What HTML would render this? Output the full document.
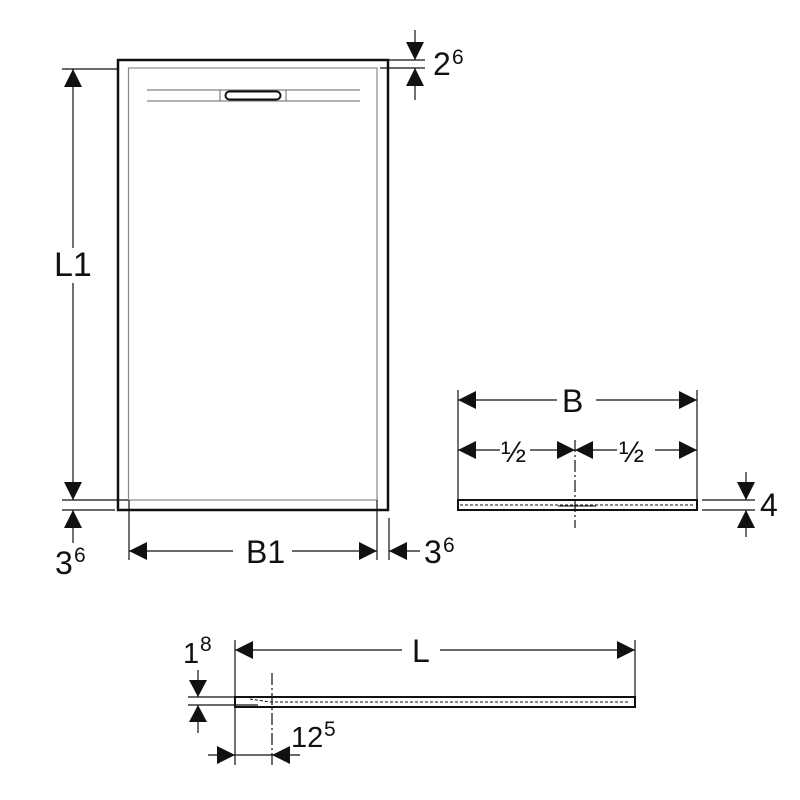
<!DOCTYPE html>
<html><head><meta charset="utf-8"><style>
html,body{margin:0;padding:0;background:#fff;}
svg{display:block;}
text{font-family:"Liberation Sans",Arial,sans-serif;fill:#111;}
</style></head><body>
<svg width="800" height="800" viewBox="0 0 800 800" xmlns="http://www.w3.org/2000/svg">
<g fill="none" stroke="#111">
  <rect x="118" y="60" width="270" height="450" stroke-width="2.5"/>
  <rect x="128.5" y="68" width="248.5" height="432" stroke="#888" stroke-width="1.2"/>
  <line x1="147" y1="90" x2="360" y2="90" stroke="#666" stroke-width="1"/>
  <line x1="147" y1="101" x2="360" y2="101" stroke="#666" stroke-width="1"/>
  <rect x="220" y="90" width="66" height="11" stroke="#666" stroke-width="1"/>
  <rect x="225.5" y="91.5" width="55" height="8" rx="4" stroke-width="2"/>
  <line x1="62" y1="69" x2="118" y2="69" stroke-width="1.2"/>
  <line x1="62" y1="500" x2="128" y2="500" stroke-width="1.2"/>
  <line x1="62" y1="510" x2="115" y2="510" stroke-width="1.2"/>
  <line x1="73" y1="69" x2="73" y2="248" stroke-width="1.2"/>
  <line x1="73" y1="283" x2="73" y2="500" stroke-width="1.2"/>
  <line x1="73" y1="510" x2="73" y2="543" stroke-width="1.2"/>
  <line x1="129" y1="500" x2="129" y2="560" stroke-width="1.2"/>
  <line x1="377" y1="500" x2="377" y2="560" stroke-width="1.2"/>
  <line x1="389" y1="518" x2="389" y2="560" stroke-width="1.2"/>
  <line x1="129" y1="551" x2="233" y2="551" stroke-width="1.2"/>
  <line x1="292" y1="551" x2="377" y2="551" stroke-width="1.2"/>
  <line x1="389" y1="551" x2="420" y2="551" stroke-width="1.2"/>
  <line x1="388" y1="60" x2="425" y2="60" stroke-width="1.2"/>
  <line x1="380" y1="68" x2="425" y2="68" stroke-width="1.2"/>
  <line x1="415" y1="30" x2="415" y2="60" stroke-width="1.2"/>
  <line x1="415" y1="68" x2="415" y2="100" stroke-width="1.2"/>
  <rect x="458" y="500" width="239" height="10" stroke-width="2"/>
  <line x1="460" y1="505" x2="695" y2="505" stroke-width="1" stroke-dasharray="3,2"/>
  <line x1="558" y1="506" x2="596" y2="506" stroke-width="1"/>
  <line x1="458" y1="390" x2="458" y2="500" stroke-width="1.2"/>
  <line x1="697" y1="390" x2="697" y2="500" stroke-width="1.2"/>
  <line x1="458" y1="400" x2="557" y2="400" stroke-width="1.2"/>
  <line x1="596" y1="400" x2="697" y2="400" stroke-width="1.2"/>
  <line x1="458" y1="450" x2="500" y2="450" stroke-width="1.2"/>
  <line x1="530" y1="450" x2="575" y2="450" stroke-width="1.2"/>
  <line x1="575" y1="450" x2="617" y2="450" stroke-width="1.2"/>
  <line x1="655" y1="450" x2="697" y2="450" stroke-width="1.2"/>
  <line x1="575" y1="440" x2="575" y2="528" stroke-width="1.2" stroke-dasharray="12,3,2,3"/>
  <line x1="702" y1="500" x2="755" y2="500" stroke-width="1.2"/>
  <line x1="702" y1="510" x2="755" y2="510" stroke-width="1.2"/>
  <line x1="746" y1="472" x2="746" y2="500" stroke-width="1.2"/>
  <line x1="746" y1="510" x2="746" y2="537" stroke-width="1.2"/>
  <rect x="235" y="697" width="400" height="10" stroke-width="2"/>
  <line x1="270" y1="702" x2="630" y2="702" stroke-width="1" stroke-dasharray="3,2"/>
  <line x1="250" y1="699" x2="270" y2="702" stroke-width="1" stroke-dasharray="3,2"/>
  <line x1="235" y1="640" x2="235" y2="765" stroke-width="1.2"/>
  <line x1="635" y1="640" x2="635" y2="697" stroke-width="1.2"/>
  <line x1="235" y1="650" x2="402" y2="650" stroke-width="1.2"/>
  <line x1="440" y1="650" x2="635" y2="650" stroke-width="1.2"/>
  <line x1="272" y1="673" x2="272" y2="766" stroke-width="1.2" stroke-dasharray="12,3,2,3"/>
  <line x1="188" y1="697" x2="235" y2="697" stroke-width="1.2"/>
  <line x1="188" y1="705" x2="258" y2="705" stroke-width="1.2"/>
  <line x1="198" y1="670" x2="198" y2="697" stroke-width="1.2"/>
  <line x1="198" y1="705" x2="198" y2="733" stroke-width="1.2"/>
  <line x1="208" y1="755" x2="300" y2="755" stroke-width="1.2"/>
</g>
<g fill="#111">
  <polygon points="73,69 64,87 82,87"/>
  <polygon points="73,500 64,482 82,482"/>
  <polygon points="73,510 64,528 82,528"/>
  <polygon points="129,551 147,542 147,560"/>
  <polygon points="377,551 359,542 359,560"/>
  <polygon points="389,551 407,542 407,560"/>
  <polygon points="415,60 406,42 424,42"/>
  <polygon points="415,68 406,86 424,86"/>
  <polygon points="458,400 476,391 476,409"/>
  <polygon points="697,400 679,391 679,409"/>
  <polygon points="458,450 476,441 476,459"/>
  <polygon points="575,450 557,441 557,459"/>
  <polygon points="575,450 593,441 593,459"/>
  <polygon points="697,450 679,441 679,459"/>
  <polygon points="746,500 737,482 755,482"/>
  <polygon points="746,510 737,528 755,528"/>
  <polygon points="235,650 253,641 253,659"/>
  <polygon points="635,650 617,641 617,659"/>
  <polygon points="198,697 189,680 207,680"/>
  <polygon points="198,705 189,722 207,722"/>
  <polygon points="235,755 217,746 217,764"/>
  <polygon points="272,755 290,746 290,764"/>
</g>
<text x="54" y="276" font-size="34">L1</text>
<text x="55" y="574" font-size="32">3</text><text x="74" y="562" font-size="21">6</text>
<text x="246" y="563" font-size="32">B1</text>
<text x="424" y="563" font-size="32">3</text><text x="443" y="552" font-size="21">6</text>
<text x="433" y="75" font-size="32">2</text><text x="452" y="64" font-size="21">6</text>
<text x="562" y="412" font-size="32">B</text>
<text x="501" y="462" font-size="30">½</text>
<text x="619" y="462" font-size="30">½</text>
<text x="760" y="516" font-size="32">4</text>
<text x="412" y="662" font-size="32">L</text>
<text x="183" y="663" font-size="29">1</text><text x="200" y="651" font-size="21">8</text>
<text x="291" y="747" font-size="29">12</text><text x="324" y="736" font-size="21">5</text>
</svg>
</body></html>
